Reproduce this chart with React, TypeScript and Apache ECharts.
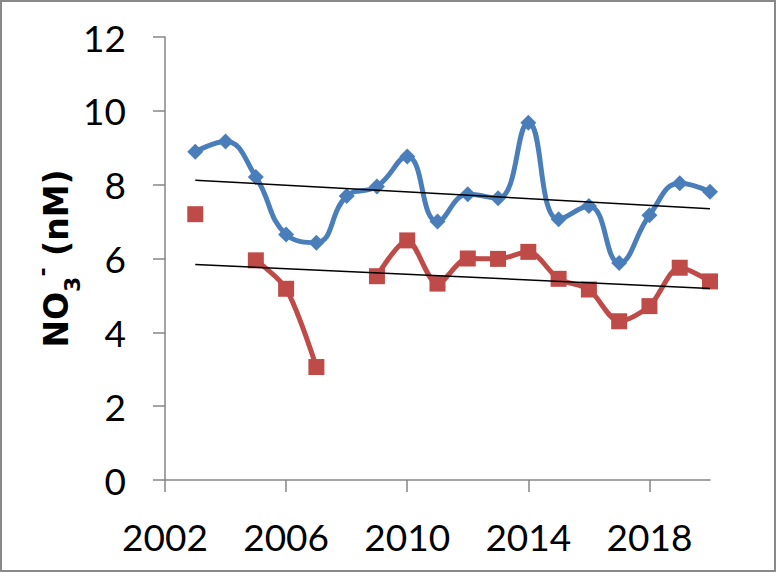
import React, { useEffect, useRef } from "react";
import * as echarts from "echarts";

const years = [2003, 2004, 2005, 2006, 2007, 2008, 2009, 2010, 2011, 2012, 2013, 2014, 2015, 2016, 2017, 2018, 2019, 2020];
const blueValues = [8.89, 9.17, 8.21, 6.65, 6.43, 7.69, 7.95, 8.76, 7.0, 7.74, 7.63, 9.68, 7.06, 7.42, 5.88, 7.17, 8.04, 7.81];
const redValues: (number | null)[] = [7.2, null, 5.95, 5.18, 3.06, null, 5.52, 6.49, 5.32, 6.0, 5.99, 6.18, 5.45, 5.16, 4.3, 4.71, 5.75, 5.38];
const trendYears = [2003, 2020];
const blueTrend = [8.12, 7.35];
const redTrend = [5.84, 5.19];
const xTickLabels = [2002, 2006, 2010, 2014, 2018];

const FONT = "Lato";
const TITLE_FONT = "DejaVu Sans";

export default function App() {
  const ref = useRef<HTMLDivElement>(null);
  useEffect(() => {
    if (!ref.current) return;
    const chart = echarts.init(ref.current, null, { renderer: "svg" });
    const pair = (vals: (number | null)[]) => years.map((y, i) => [y, vals[i] == null ? "-" : vals[i]]);
    chart.setOption({
      animation: false,
      backgroundColor: "#ffffff",
      grid: { left: 165, right: 66, top: 37, bottom: 92, containLabel: false },
      xAxis: {
        type: "value",
        min: 2002,
        max: 2020,
        interval: 4,
        axisLine: { show: true, lineStyle: { color: "#868686", width: 1.5 } },
        axisTick: { show: true, length: 12, customValues: xTickLabels, lineStyle: { color: "#868686", width: 1.5 } },
        axisLabel: {
          customValues: xTickLabels,
          color: "#000",
          fontFamily: FONT,
          fontSize: 37,
          margin: 38,
          formatter: (v: number) => String(v),
        },
        splitLine: { show: false },
      },
      yAxis: {
        type: "value",
        min: 0,
        max: 12,
        interval: 2,
        name: "{a|NO}{b|3}{c|-}{a| (nM)}",
        nameLocation: "middle",
        nameRotate: 90,
        nameGap: 90,
        nameMoveOverlap: false,
        nameTextStyle: {
          rich: {
            a: { fontFamily: TITLE_FONT, fontWeight: "bold", fontSize: 33, lineHeight: 38, color: "#000" },
            b: { fontFamily: TITLE_FONT, fontWeight: "bold", fontSize: 22, lineHeight: 38, verticalAlign: "bottom", color: "#000", padding: [0, 0, -8, 0] },
            c: { fontFamily: TITLE_FONT, fontWeight: "bold", fontSize: 22, lineHeight: 38, verticalAlign: "top", color: "#000", padding: [-6, 0, 0, 0] },
          },
        },
        axisLine: { show: true, lineStyle: { color: "#868686", width: 1.5 } },
        axisTick: { show: true, length: 12, lineStyle: { color: "#868686", width: 1.5 } },
        axisLabel: { color: "#000", fontFamily: FONT, fontSize: 37, margin: 39 },
        splitLine: { show: false },
      },
      graphic: [
        {
          type: "rect",
          shape: { x: 1, y: 1, width: 774, height: 570 },
          style: { fill: "none", stroke: "#898989", lineWidth: 2 },
          silent: true,
        },
      ],
      series: [
        {
          type: "line",
          data: pair(blueValues),
          smooth: 0.45,
          symbol: "diamond",
          symbolSize: 16,
          showAllSymbol: true,
          lineStyle: { color: "#4A7EBB", width: 5 },
          itemStyle: { color: "#4A7EBB" },
          z: 2,
        },
        {
          type: "line",
          data: pair(redValues),
          smooth: 0.3,
          connectNulls: false,
          symbol: "rect",
          symbolSize: 16,
          showAllSymbol: true,
          lineStyle: { color: "#BE4B48", width: 5 },
          itemStyle: { color: "#BE4B48" },
          z: 2,
        },
        {
          type: "line",
          data: trendYears.map((y, i) => [y, blueTrend[i]]),
          symbol: "none",
          lineStyle: { color: "#000", width: 1.5 },
          z: 3,
        },
        {
          type: "line",
          data: trendYears.map((y, i) => [y, redTrend[i]]),
          symbol: "none",
          lineStyle: { color: "#000", width: 1.5 },
          z: 3,
        },
      ],
    });
    return () => chart.dispose();
  }, []);
  return <div ref={ref} style={{ position: "absolute", left: 0, top: 0, width: 776, height: 572 }} />;
}
